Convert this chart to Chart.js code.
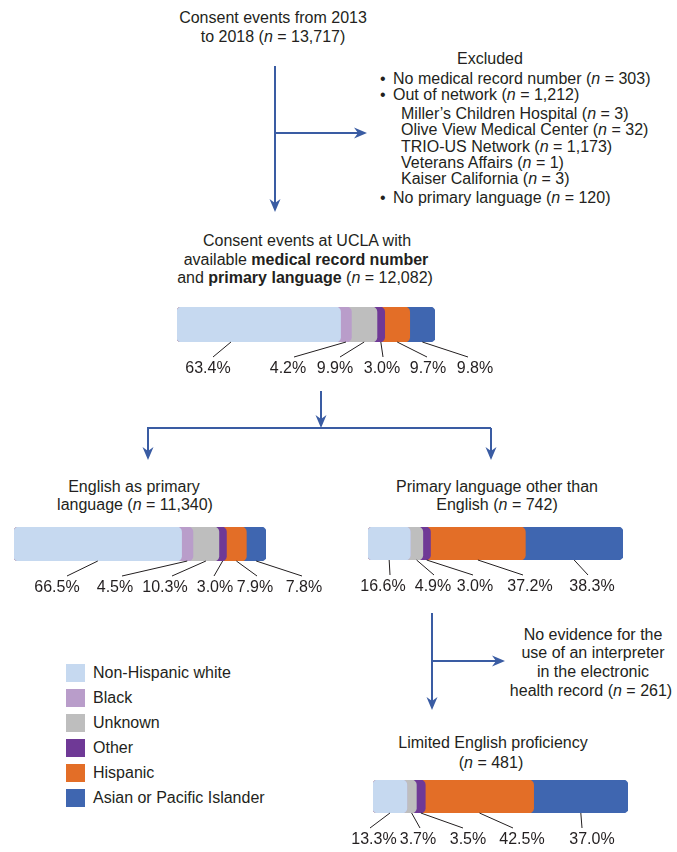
<!DOCTYPE html>
<html>
<head>
<meta charset="utf-8">
<script src="https://cdn.jsdelivr.net/npm/chart.js@4.4.1/dist/chart.umd.min.js"></script>
<style>
  html, body { margin: 0; padding: 0; background: #fff; }
  #page { position: relative; width: 677px; height: 852px; overflow: hidden;
    font-family: "Liberation Sans", Arial, sans-serif; font-size: 16px; color: #231f20; }
  .t { position: absolute; white-space: nowrap; line-height: 1; transform: translate(-50%, -50%); }
  .l { position: absolute; white-space: nowrap; line-height: 1; transform: translateY(-50%); }
  canvas.bar { position: absolute; left: 0; }
  svg { position: absolute; left: 0; top: 0; }
  .sw { position: absolute; width: 19px; height: 18px; }
</style>
</head>
<body>
<div id="page">
  <svg id="arrows" width="677" height="852"></svg>

  <div class="t" style="left:273px;top:18px">Consent events from 2013</div>
  <div class="t" style="left:273px;top:37px">to 2018 (<i>n</i> = 13,717)</div>

  <div class="t" style="left:490px;top:59px">Excluded</div>
  <div class="l" style="left:380px;top:79px">•</div>
  <div class="l" style="left:393px;top:79px">No medical record number (<i>n</i> = 303)</div>
  <div class="l" style="left:380px;top:95px">•</div>
  <div class="l" style="left:393px;top:95px">Out of network (<i>n</i> = 1,212)</div>
  <div class="l" style="left:401px;top:114px">Miller’s Children Hospital (<i>n</i> = 3)</div>
  <div class="l" style="left:401px;top:130px">Olive View Medical Center (<i>n</i> = 32)</div>
  <div class="l" style="left:401px;top:147px">TRIO-US Network (<i>n</i> = 1,173)</div>
  <div class="l" style="left:401px;top:163px">Veterans Affairs (<i>n</i> = 1)</div>
  <div class="l" style="left:401px;top:179px">Kaiser California (<i>n</i> = 3)</div>
  <div class="l" style="left:380px;top:198px">•</div>
  <div class="l" style="left:393px;top:198px">No primary language (<i>n</i> = 120)</div>

  <div class="t" style="left:307px;top:241px">Consent events at UCLA with</div>
  <div class="t" style="left:306px;top:260px">available <b>medical record number</b></div>
  <div class="t" style="left:305px;top:278px">and <b>primary language</b> (<i>n</i> = 12,082)</div>

  <div class="t" style="left:134px;top:487px">English as primary</div>
  <div class="t" style="left:135px;top:505px">language (<i>n</i> = 11,340)</div>
  <div class="t" style="left:497px;top:487px">Primary language other than</div>
  <div class="t" style="left:497px;top:505px">English (<i>n</i> = 742)</div>

  <div class="t" style="left:593px;top:635px">No evidence for the</div>
  <div class="t" style="left:593px;top:653px">use of an interpreter</div>
  <div class="t" style="left:593px;top:672px">in the electronic</div>
  <div class="t" style="left:591px;top:691px">health record (<i>n</i> = 261)</div>

  <div class="t" style="left:493px;top:743px">Limited English proficiency</div>
  <div class="t" style="left:491px;top:763px">(<i>n</i> = 481)</div>

  <div id="legend"></div>

  <canvas class="bar" id="bAll"></canvas>
  <canvas class="bar" id="bEng"></canvas>
  <canvas class="bar" id="bOther"></canvas>
  <canvas class="bar" id="bLep"></canvas>
</div>

<script>
// groups, in stacking order
const groups = ["Non-Hispanic white", "Black", "Unknown", "Other", "Hispanic", "Asian or Pacific Islander"];
const colors = ["#c6d9f0", "#b99dca", "#bebebe", "#6f3996", "#e36e27", "#3f66b0"];

// shares (%) per cohort
const allUcla   = [63.4, 4.2, 9.9, 3.0, 9.7, 9.8];
const english   = [66.5, 4.5, 10.3, 3.0, 7.9, 7.8];
const otherLang = [16.6, 0, 4.9, 3.0, 37.2, 38.3];
const lep       = [13.3, 0, 3.7, 3.5, 42.5, 37.0];

const INK = "#231f20";
const ARROW = "#3a5ca3";

// legend
const leg = document.getElementById("legend");
groups.forEach((g, i) => {
  const y = 673 + i * 25;
  leg.insertAdjacentHTML("beforeend",
    `<div class="sw" style="left:66px;top:${y - 9}px;background:${colors[i]}"></div>` +
    `<div class="l" style="left:93px;top:${y}px">${g}</div>`);
});

// arrows
const svg = document.getElementById("arrows");
const seg = (x1, y1, x2, y2) =>
  svg.insertAdjacentHTML("beforeend",
    `<line x1="${x1}" y1="${y1}" x2="${x2}" y2="${y2}" stroke="${ARROW}" stroke-width="2"/>`);
const head = (x, y, dir) => {
  // dir: "down" or "right"; (x,y) is the tip
  const p = dir === "down"
    ? [[x, y], [x - 5.5, y - 13], [x, y - 9], [x + 5.5, y - 13]]
    : [[x, y], [x - 13, y - 5.5], [x - 9, y], [x - 13, y + 5.5]];
  svg.insertAdjacentHTML("beforeend",
    `<polygon points="${p.map(q => q.join(",")).join(" ")}" fill="${ARROW}"/>`);
};
seg(275, 66, 275, 204); head(275, 212, "down");
seg(275, 133, 358, 133); head(367, 133, "right");
seg(321, 391, 321, 420); head(321, 428, "down");
seg(147, 428, 491, 428);
seg(148, 428, 148, 452); head(148, 460, "down");
seg(491, 428, 491, 452); head(491, 460, "down");
seg(432, 613, 432, 702); head(432, 710, "down");
seg(432, 661, 497, 661); head(505, 661, "right");

// leader lines + percent labels under each bar
const leaders = {
  id: "leaders",
  afterDatasetsDraw(chart, args, o) {
    const { ctx, chartArea, scales: { x } } = chart;
    let cum = 0;
    ctx.save();
    ctx.strokeStyle = INK; ctx.lineWidth = 1;
    ctx.fillStyle = INK; ctx.font = "16px 'Liberation Sans', Arial, sans-serif";
    ctx.textAlign = "center"; ctx.textBaseline = "middle";
    o.shares.forEach((v, i) => {
      const a = x.getPixelForValue(cum), b = x.getPixelForValue(cum + v);
      cum += v;
      if (!v) return;
      const ax = a + (b - a) * (o.frac[i] ?? 0.5);
      ctx.beginPath();
      ctx.moveTo(ax, chartArea.bottom);
      ctx.lineTo(o.tipX[i], chartArea.bottom + 15);
      ctx.stroke();
      ctx.fillText(v.toFixed(1) + "%", o.labelX[i], chartArea.bottom + 27);
    });
    ctx.restore();
  },
};

function stackBar(id, shares, box, labelX, tipX, frac = []) {
  const cv = document.getElementById(id);
  const h = box.y1 - box.y0 + 50;
  cv.width = 677; cv.height = h;
  cv.style.top = (box.y0 - 4) + "px"; cv.style.width = "677px"; cv.style.height = h + "px";
  // every segment runs from 0 to its cumulative end; earlier ones sit on top
  let cum = 0;
  const ds = shares.map((v, i) => ({
    label: groups[i], data: [[0, (cum += v)]], backgroundColor: colors[i],
    borderRadius: 5, borderSkipped: false, barPercentage: 1, categoryPercentage: 1,
  }));
  new Chart(cv, {
    type: "bar",
    data: { labels: [""], datasets: ds },
    options: {
      indexAxis: "y", responsive: false, animation: false, devicePixelRatio: 1,
      layout: { padding: { left: box.x0, right: 677 - box.x1, top: 4, bottom: h - 4 - (box.y1 - box.y0) } },
      plugins: { legend: { display: false }, tooltip: { enabled: false },
        leaders: { shares, labelX, tipX, frac } },
      scales: {
        x: { display: false, min: 0, max: 100 },
        y: { display: false },
      },
      datasets: { bar: { grouped: false } },
    },
    plugins: [leaders],
  });
}

stackBar("bAll", allUcla, { x0: 177, x1: 435, y0: 307, y1: 342 },
  [208, 288, 335, 382, 428, 475], [213, 294, 340, 383, 427, 468], [0.33]);
stackBar("bEng", english, { x0: 14, x1: 266, y0: 527, y1: 561 },
  [57, 115, 165, 215, 255, 304], [67, 122, 172, 214, 257, 302]);
stackBar("bOther", otherLang, { x0: 368, x1: 623, y0: 527, y1: 560 },
  [383, 0, 433, 475, 530, 592], [390, 0, 434, 473, 523, 588]);
stackBar("bLep", lep, { x0: 373, x1: 628, y0: 780, y1: 813 },
  [374, 0, 418, 468, 522, 592], [370, 0, 420, 463, 513, 582]);
</script>
</body>
</html>
